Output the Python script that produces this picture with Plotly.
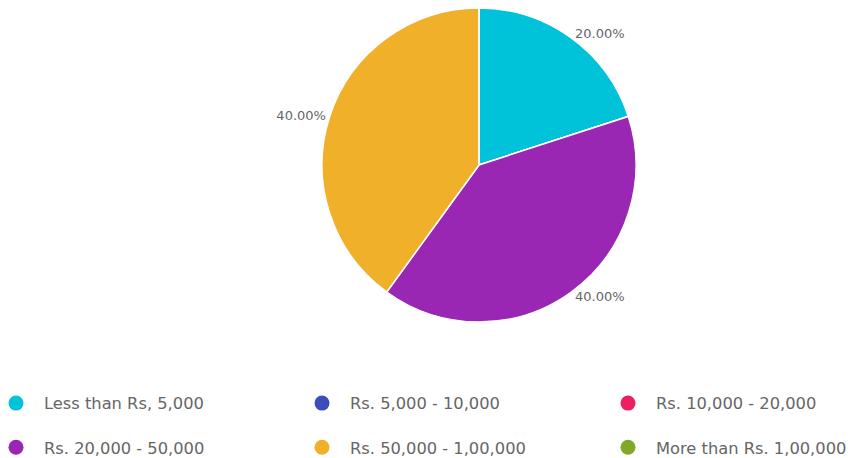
import plotly.graph_objects as go

categories = ["Less than Rs, 5,000", "Rs. 5,000 - 10,000", "Rs. 10,000 - 20,000",
              "Rs. 20,000 - 50,000", "Rs. 50,000 - 1,00,000", "More than Rs. 1,00,000"]
values = [1, 0, 0, 2, 2, 0]
colors = ["#00C3DA", "#3B4DB8", "#EC1F60", "#9A27B3", "#F1B02A", "#80A929"]

W, H = 848, 458
cx, cy, r = 479, 165, 157

fig = go.Figure()
fig.add_trace(go.Pie(
    labels=categories, values=values, sort=False, direction="clockwise", rotation=0,
    marker=dict(colors=colors, line=dict(color="white", width=1.5)),
    textposition="outside",
    texttemplate=["%{percent:.2%}" if v > 0 else "" for v in values],
    textfont=dict(family="DejaVu Sans", size=13, color="#666666"),
    hoverinfo="label+percent", showlegend=False,
    domain=dict(x=[(cx - r) / W, (cx + r) / W], y=[(H - cy - r) / H, (H - cy + r) / H]),
))

legend_ids = ["legend", "legend2", "legend3"]
for i, (name, col) in enumerate(zip(categories, colors)):
    fig.add_trace(go.Scatter(
        x=[None], y=[None], mode="markers", name=name,
        marker=dict(symbol="circle", size=15, color=col),
        legend=legend_ids[i % 3], legendgroup=name,
    ))


def leg(x, anchor="left"):
    return dict(orientation="v", xanchor=anchor, yanchor="bottom", x=x / W, y=-7 / H,
                itemwidth=46, tracegroupgap=20,
                font=dict(family="DejaVu Sans", size=16.3, color="#666666"),
                bgcolor="rgba(0,0,0,0)", borderwidth=0, traceorder="grouped")


fig.update_layout(
    width=W, height=H,
    margin=dict(l=0, r=0, t=0, b=0, autoexpand=False),
    paper_bgcolor="white", plot_bgcolor="white",
    xaxis=dict(visible=False), yaxis=dict(visible=False),
    legend=leg(-12), legend2=leg(294), legend3=leg(852, "right"),
)

fig.write_html("out.html", config={"displayModeBar": False},
               post_script="document.body.style.margin='0';document.body.style.overflow='hidden';")
